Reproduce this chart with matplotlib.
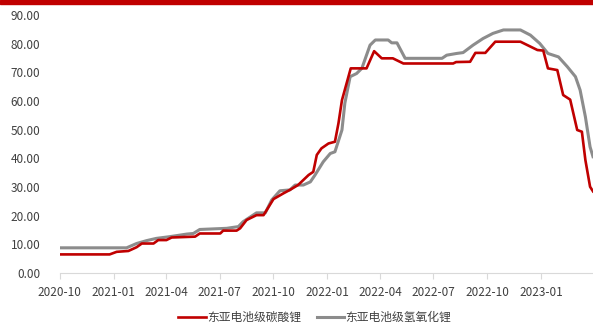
import matplotlib.pyplot as plt
import matplotlib.dates as mdates
from matplotlib.patches import Rectangle
import pandas as pd

plt.rcParams['font.family'] = ['Noto Sans CJK SC', 'DejaVu Sans']

# 东亚电池级碳酸锂 (万元/吨)
carbonate_dates = [
    '2020-10-01', '2020-12-25', '2021-01-06', '2021-01-26', '2021-02-09', '2021-02-18',
    '2021-03-10', '2021-03-18', '2021-04-01', '2021-04-10', '2021-05-20', '2021-05-28',
    '2021-07-02', '2021-07-07', '2021-07-30', '2021-08-05', '2021-08-16', '2021-09-02',
    '2021-09-14', '2021-10-01', '2021-10-18', '2021-10-29', '2021-11-12', '2021-11-30',
    '2021-12-08', '2021-12-14', '2021-12-22', '2022-01-03', '2022-01-14', '2022-01-20',
    '2022-01-26', '2022-02-10', '2022-03-09', '2022-03-22', '2022-04-04', '2022-04-23',
    '2022-05-11', '2022-08-04', '2022-08-09', '2022-09-02', '2022-09-11', '2022-09-28',
    '2022-10-15', '2022-11-27', '2022-12-09', '2022-12-26', '2023-01-05', '2023-01-13',
    '2023-01-29', '2023-02-08', '2023-02-20', '2023-03-04', '2023-03-12', '2023-03-18',
    '2023-03-26', '2023-03-31',
]
carbonate = [
    6.5, 6.5, 7.4, 7.7, 9.0, 10.3,
    10.3, 11.5, 11.5, 12.4, 12.7, 13.8,
    13.8, 14.8, 14.8, 15.6, 18.5, 20.2,
    20.2, 25.8, 27.8, 29.0, 30.7, 34.2,
    35.3, 41.2, 43.5, 45.2, 45.8, 52.2,
    60.3, 71.4, 71.4, 77.4, 74.9, 74.9,
    73.1, 73.1, 73.6, 73.7, 76.8, 76.8,
    80.7, 80.7, 79.5, 77.8, 77.6, 71.4,
    70.8, 62.1, 60.5, 49.9, 49.3, 39.4,
    30.1, 28.5,
]

# 东亚电池级氢氧化锂
hydroxide_dates = [
    '2020-10-01', '2021-01-23', '2021-02-09', '2021-02-26', '2021-03-15', '2021-04-07',
    '2021-05-06', '2021-05-17', '2021-05-28', '2021-07-13', '2021-08-02', '2021-08-10',
    '2021-09-02', '2021-09-17', '2021-09-28', '2021-10-12', '2021-10-29', '2021-11-07',
    '2021-11-21', '2021-12-03', '2021-12-11', '2021-12-25', '2022-01-06', '2022-01-14',
    '2022-01-26', '2022-01-31', '2022-02-09', '2022-02-20', '2022-03-01', '2022-03-15',
    '2022-03-24', '2022-04-15', '2022-04-21', '2022-04-30', '2022-05-14', '2022-07-16',
    '2022-07-24', '2022-08-10', '2022-08-21', '2022-09-07', '2022-09-24', '2022-10-11',
    '2022-10-29', '2022-11-27', '2022-12-14', '2022-12-30', '2023-01-13', '2023-01-31',
    '2023-02-15', '2023-03-01', '2023-03-09', '2023-03-18', '2023-03-26', '2023-03-31',
]
hydroxide = [
    8.8, 8.8, 10.3, 11.3, 12.1, 12.7,
    13.6, 13.8, 15.2, 15.6, 16.2, 17.9,
    21.0, 21.0, 25.5, 28.7, 29.0, 30.7,
    30.7, 31.8, 34.2, 38.8, 41.7, 42.3,
    49.9, 59.3, 68.5, 69.6, 71.4, 79.5,
    81.3, 81.3, 80.3, 80.3, 74.9, 74.9,
    76.0, 76.6, 76.9, 79.5, 81.8, 83.6,
    84.8, 84.8, 83.0, 80.1, 76.6, 75.4,
    72.0, 68.5, 63.8, 54.5, 44.0, 40.6,
]

tick_dates = ['2020-10-01', '2021-01-01', '2021-04-01', '2021-07-01', '2021-10-01',
              '2022-01-01', '2022-04-01', '2022-07-01', '2022-10-01', '2023-01-01']

fig = plt.figure(figsize=(5.93, 3.27), dpi=100)
ax = fig.add_axes([0.101, 0.165, 0.899, 0.789])

ax.plot(pd.to_datetime(hydroxide_dates), hydroxide, color='#8C8C8C', lw=2.2,
        label='东亚电池级氢氧化锂', zorder=2)
ax.plot(pd.to_datetime(carbonate_dates), carbonate, color='#C00000', lw=1.9,
        label='东亚电池级碳酸锂', zorder=3)

ax.set_xlim(pd.Timestamp('2020-10-01'), pd.Timestamp('2023-03-31'))
ax.set_ylim(0, 90)
ax.set_yticks(range(0, 91, 10))
ax.yaxis.set_major_formatter(plt.FuncFormatter(lambda v, p: '{:.2f}'.format(v)))
ax.set_xticks(pd.to_datetime(tick_dates))
ax.xaxis.set_major_formatter(mdates.DateFormatter('%Y-%m'))

for s in ['top', 'right', 'left']:
    ax.spines[s].set_visible(False)
ax.spines['bottom'].set_color('#D9D9D9')
ax.tick_params(axis='y', length=0, pad=14, labelsize=8.5, labelcolor='#404040')
ax.tick_params(axis='x', length=4, color='#D9D9D9', pad=5, labelsize=8.5,
               labelcolor='#404040')

handles, labels = ax.get_legend_handles_labels()
leg = fig.legend(handles[::-1], labels[::-1], loc='center', ncol=2,
                 bbox_to_anchor=(0.531, 0.03), frameon=False, fontsize=8.5,
                 handlelength=2.3, handletextpad=0.1, columnspacing=1.4)
for t in leg.get_texts():
    t.set_color('#404040')

# red band at the top
fig.patches.append(Rectangle((0, 1 - 4 / 327), 1, 4 / 327, transform=fig.transFigure,
                             color='#C00000', zorder=5))

fig.savefig('out.png', dpi=100)
